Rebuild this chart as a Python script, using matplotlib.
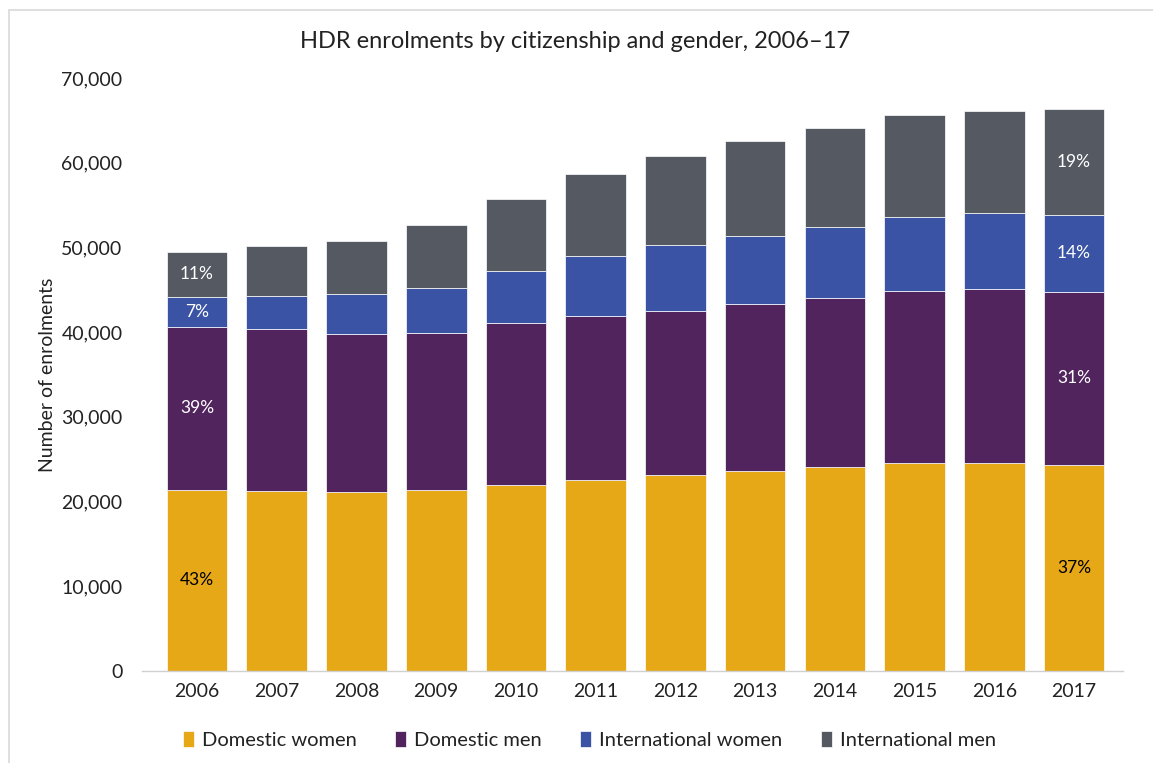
import matplotlib.pyplot as plt
from matplotlib.patches import Rectangle
from matplotlib.ticker import FuncFormatter
import numpy as np

plt.rcParams['font.family'] = ['Lato', 'DejaVu Sans']

years = ['2006', '2007', '2008', '2009', '2010', '2011',
         '2012', '2013', '2014', '2015', '2016', '2017']
domestic_women = [21370, 21250, 21130, 21370, 21960, 22550,
                  23140, 23610, 24080, 24550, 24550, 24320]
domestic_men = [19240, 19120, 18650, 18530, 19120, 19360,
                19360, 19710, 19950, 20310, 20550, 20420]
international_women = [3540, 3900, 4720, 5310, 6140, 7080,
                       7790, 8030, 8380, 8740, 8970, 9090]
international_men = [5310, 5900, 6260, 7440, 8500, 9680,
                     10510, 11220, 11690, 12040, 12040, 12510]

series = [
    ('Domestic women', domestic_women, '#E6A817', 'black'),
    ('Domestic men', domestic_men, '#52245E', 'white'),
    ('International women', international_women, '#3A53A4', 'white'),
    ('International men', international_men, '#555A62', 'white'),
]
labelled = [0, len(years) - 1]  # share labels on first and last bar only

fig = plt.figure(figsize=(11.53, 7.63), dpi=100)
ax = fig.add_axes([0.1232, 0.1206, 0.8508, 0.7772])

# chart frame (light grey border)
fig.patches.append(Rectangle((9 / 1153, -0.1), 1.2, 1 - 10 / 763 + 0.1,
                             transform=fig.transFigure, fill=False,
                             edgecolor='#D9D9D9', lw=1.2))

x = np.arange(len(years))
totals = np.sum([s[1] for s in series], axis=0)
bottom = np.zeros(len(years))
for name, vals, color, tcolor in series:
    vals = np.array(vals, dtype=float)
    ax.bar(x, vals, 0.76, bottom=bottom, color=color, label=name,
           edgecolor='white', linewidth=0.5)
    for i in labelled:
        pct = vals[i] / totals[i] * 100
        ax.text(x[i], bottom[i] + vals[i] / 2, f'{pct:.0f}%',
                ha='center', va='center', fontsize=12.5, color=tcolor)
    bottom += vals

ax.set_xlim(-0.69, len(years) - 1 + 0.615)
ax.set_ylim(0, 70000)
ax.set_yticks(np.arange(0, 70001, 10000))
ax.yaxis.set_major_formatter(FuncFormatter(lambda v, p: f'{v:,.0f}'))
ax.set_xticks(x)
ax.set_xticklabels(years)
ax.tick_params(axis='both', length=0, labelsize=14, colors='#222222')
ax.tick_params(axis='y', pad=14)
ax.tick_params(axis='x', pad=9)
for s in ['top', 'right', 'left']:
    ax.spines[s].set_visible(False)
ax.spines['bottom'].set_color('#D0D0D0')
ax.spines['bottom'].set_linewidth(1.0)

ax.set_ylabel('Number of enrolments', fontsize=14, color='#222222', labelpad=4)
fig.text(0.499, 1 - 42 / 763, 'HDR enrolments by citizenship and gender, 2006\u201317',
         ha='center', va='center', fontsize=17, color='#222222')

ax.legend(loc='center', bbox_to_anchor=(0.456, (671 - 740) / 593), ncol=4,
          frameon=False, fontsize=14.5, handlelength=0.55, handleheight=0.8,
          handletextpad=0.4, columnspacing=1.9, labelcolor='#222222')

fig.savefig('out.png', dpi=100)
